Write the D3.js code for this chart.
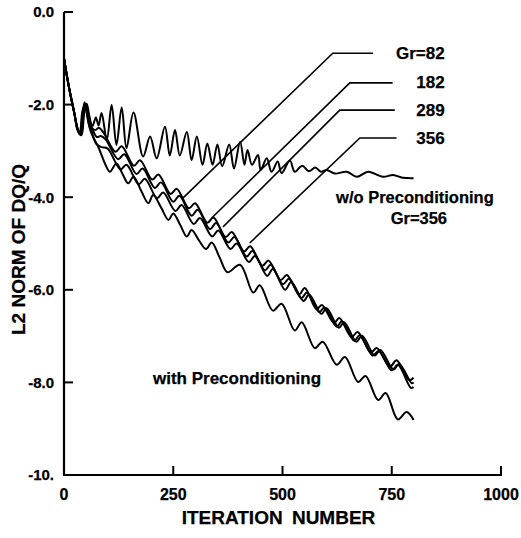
<!DOCTYPE html>
<html>
<head>
<meta charset="utf-8">
<script src="https://cdn.jsdelivr.net/npm/d3@7"></script>
<style>
  html, body { margin: 0; padding: 0; background: #fff; }
  svg { display: block; }
  text { font-family: "Liberation Sans", Arial, Helvetica, sans-serif; font-weight: bold; fill: #000; stroke: #000; stroke-width: 0.25px; }
</style>
</head>
<body>
<svg id="chart" width="521" height="538"></svg>
<script>
// ---------------- data ----------------
const xTicks = [0, 250, 500, 750, 1000];
const xTickLabels = ["0", "250", "500", "750", "1000"];
const yTicks = [0, -2, -4, -6, -8, -10];
const yTickLabels = ["0.0", "-2.0", "-4.0", "-6.0", "-8.0", "-10."];
const xTitle = "ITERATION NUMBER";
const yTitle = "L2 NORM OF DQ/Q";

// without preconditioning, Gr=356
const withoutPrecond = [
  [0,-1.0],[6,-1.35],[13,-1.7],[20,-2.0],[28,-2.4],[36,-2.64],[42,-2.3],[47,-1.95],[53,-2.2],[60,-2.5],
  [66,-2.45],[73,-2.28],[79,-2.45],[86,-2.18],[98,-2.76],[109,-2.01],[120,-2.87],[132,-2.06],[143,-2.94],
  [159,-2.17],[181,-3.12],[197,-2.69],[212,-3.16],[231,-2.48],[242,-3.1],[254,-2.55],[265,-3.1],[281,-2.59],
  [292,-3.2],[304,-2.69],[317,-3.3],[328,-2.84],[340,-3.3],[351,-2.86],[362,-3.33],[378,-2.86],[389,-3.38],
  [403,-2.8],[413,-3.3],[420,-2.98],[430,-3.3],[444,-3.09],[450,-3.41],[464,-3.16],[475,-3.45],[489,-3.23],
  [498,-3.48],[517,-3.21],[528,-3.45],[545,-3.32],[560,-3.44],[575,-3.36],[588,-3.45],[601,-3.41],[620,-3.49],
  [647,-3.45],[670,-3.56],[696,-3.45],[730,-3.56],[753,-3.52],[775,-3.58],[800,-3.59]
];

// with preconditioning (four Grashof numbers)
const precondA = [
  [0,-1.0],[8,-1.45],[16,-1.85],[24,-2.2],[32,-2.55],[38,-2.64],[44,-2.25],[50,-1.98],[56,-2.2],[64,-2.5],
  [72,-2.55],[80,-2.5],[90,-2.6],[118,-3.02],[132,-2.9],[160,-3.32],[174,-3.2],[202,-3.62],[216,-3.51],
  [244,-3.93],[258,-3.82],[286,-4.24],[300,-4.13],[328,-4.55],[342,-4.44],[370,-4.86],[384,-4.75],
  [412,-5.17],[426,-5.06],[454,-5.48],[468,-5.37],[496,-5.79],[510,-5.68],[538,-6.1],[551,-5.96],
  [578,-6.42],[590,-6.33],[618,-6.72],[630,-6.61],[658,-7.02],[672,-6.91],[702,-7.35],[716,-7.26],
  [746,-7.66],[761,-7.52],[790,-7.95],[800,-7.9]
];
const precondB = [
  [0,-1.0],[8,-1.45],[16,-1.85],[24,-2.2],[32,-2.58],[40,-2.66],[46,-2.2],[52,-1.98],[58,-2.25],[66,-2.55],
  [75,-2.7],[84,-2.68],[95,-2.75],[124,-3.18],[138,-3.07],[166,-3.5],[180,-3.38],[208,-3.8],[222,-3.68],
  [250,-4.1],[264,-3.97],[292,-4.4],[306,-4.27],[334,-4.69],[348,-4.56],[376,-4.98],[390,-4.86],
  [418,-5.28],[431,-5.16],[460,-5.58],[473,-5.46],[501,-5.88],[515,-5.76],[543,-6.18],[556,-6.06],
  [584,-6.48],[596,-6.38],[624,-6.8],[636,-6.68],[664,-7.1],[677,-6.98],[706,-7.42],[720,-7.32],
  [750,-7.74],[764,-7.62],[794,-8.12],[800,-8.1]
];
const precondC = [
  [0,-1.0],[8,-1.45],[16,-1.85],[24,-2.2],[32,-2.55],[39,-2.62],[45,-2.2],[50,-2.05],[56,-2.3],[64,-2.6],
  [74,-2.85],[86,-2.92],[100,-2.95],[129,-3.4],[143,-3.3],[171,-3.72],[185,-3.6],[213,-4.02],[227,-3.9],
  [255,-4.3],[269,-4.17],[297,-4.58],[311,-4.45],[339,-4.85],[353,-4.72],[381,-5.12],[395,-5.0],
  [423,-5.4],[437,-5.27],[465,-5.7],[478,-5.55],[506,-6.0],[520,-5.83],[548,-6.24],[561,-6.1],
  [589,-6.52],[601,-6.4],[629,-6.82],[641,-6.7],[669,-7.12],[682,-6.99],[711,-7.42],[724,-7.3],
  [754,-7.72],[767,-7.6],[796,-8.02],[800,-8.0]
];
const precondD = [
  [0,-1.0],[8,-1.45],[16,-1.85],[24,-2.2],[30,-2.5],[36,-2.62],[42,-2.15],[48,-2.0],[55,-2.35],[62,-2.6],
  [80,-2.95],[95,-3.3],[105,-3.45],[120,-3.27],[134,-3.5],[147,-3.7],[159,-3.56],[176,-3.85],[193,-4.13],
  [204,-3.95],[222,-4.22],[239,-4.49],[250,-4.35],[266,-4.6],[281,-4.85],[292,-4.71],[308,-4.92],
  [325,-5.12],[338,-4.98],[356,-5.3],[374,-5.62],[403,-5.46],[433,-6.06],[448,-5.9],[478,-6.45],
  [498,-6.3],[528,-6.88],[544,-6.7],[574,-7.26],[592,-7.12],[624,-7.62],[643,-7.45],[673,-7.99],
  [690,-7.86],[719,-8.38],[736,-8.23],[764,-8.8],[784,-8.64],[800,-8.81]
];
const seriesList = [withoutPrecond, precondA, precondB, precondC, precondD];

// Gr labels with leader lines: label, leader corner (x from, x to, y), target point on curve
const grLabels = ["Gr=82", "182", "289", "356"];
const grLeaderStartX = [615, 654, 631, 677];
const grLeaderEndX = [707, 752, 757, 761];
const grLeaderY = [-0.89, -1.53, -2.12, -2.72];
const grTargets = [[272,-4.02],[338,-4.45],[364,-4.64],[425,-4.99]];
const grLabelRightX = 871;

const noteWithout = ["w/o Preconditioning", "Gr=356"];
const noteWithoutPos = [[803,-4.12],[812,-4.57]];
const noteWith = "with Preconditioning";
const noteWithPos = [396,-8.03];

// ---------------- drawing ----------------
const svg = d3.select("#chart");
const x = d3.scaleLinear().domain([0, 1000]).range([64, 501]);
const y = d3.scaleLinear().domain([0, -10]).range([12, 475]);

// axes lines
svg.append("line").attr("x1", x(0)).attr("x2", x(0)).attr("y1", y(0)).attr("y2", y(-10))
  .attr("stroke", "#000").attr("stroke-width", 2.2);
svg.append("line").attr("x1", x(0) - 1).attr("x2", x(1000) + 1).attr("y1", y(-10)).attr("y2", y(-10))
  .attr("stroke", "#000").attr("stroke-width", 2.2);

// y ticks (inward)
svg.selectAll(".ytick").data(yTicks).enter().append("line")
  .attr("x1", x(0)).attr("x2", x(0) + 9)
  .attr("y1", d => y(d)).attr("y2", d => y(d))
  .attr("stroke", "#000").attr("stroke-width", 2);
svg.selectAll(".ylab").data(yTicks).enter().append("text")
  .attr("x", x(0) - 10).attr("y", d => y(d)).attr("dy", "0.36em")
  .attr("text-anchor", "end").attr("font-size", 15)
  .text((d, i) => yTickLabels[i]);

// x ticks (inward)
svg.selectAll(".xtick").data(xTicks).enter().append("line")
  .attr("x1", d => x(d)).attr("x2", d => x(d))
  .attr("y1", y(-10)).attr("y2", y(-10) - 9)
  .attr("stroke", "#000").attr("stroke-width", 2);
svg.selectAll(".xlab").data(xTicks).enter().append("text")
  .attr("x", d => x(d)).attr("y", y(-10) + 25)
  .attr("text-anchor", "middle").attr("font-size", 16)
  .text((d, i) => xTickLabels[i]);

// axis titles
svg.append("text").attr("x", (x(0) + x(1000)) / 2 - 4).attr("y", 524)
  .attr("text-anchor", "middle").attr("font-size", 19).attr("word-spacing", 4).text(xTitle);
svg.append("text").attr("transform", `translate(25, ${(y(0) + y(-10)) / 2 + 6}) rotate(-90)`)
  .attr("text-anchor", "middle").attr("font-size", 19).text(yTitle);

// curves
const line = d3.line().x(d => x(d[0])).y(d => y(d[1])).curve(d3.curveCatmullRom.alpha(0.5));
svg.selectAll(".curve").data(seriesList).enter().append("path")
  .attr("d", line).attr("fill", "none").attr("stroke", "#000")
  .attr("stroke-width", 2).attr("stroke-linejoin", "round");

// leader lines and Gr labels
grLabels.forEach((lab, i) => {
  svg.append("polyline")
    .attr("points", [[x(grTargets[i][0]), y(grTargets[i][1])],
                     [x(grLeaderStartX[i]), y(grLeaderY[i])],
                     [x(grLeaderEndX[i]), y(grLeaderY[i])]].map(p => p.join(",")).join(" "))
    .attr("fill", "none").attr("stroke", "#000").attr("stroke-width", 1.6);
  svg.append("text").attr("x", x(grLabelRightX)).attr("y", y(grLeaderY[i])).attr("dy", "0.33em")
    .attr("text-anchor", "end").attr("font-size", 17).text(lab);
});

noteWithout.forEach((t, i) => {
  svg.append("text").attr("x", x(noteWithoutPos[i][0])).attr("y", y(noteWithoutPos[i][1]))
    .attr("text-anchor", "middle").attr("font-size", 16.5).text(t);
});
svg.append("text").attr("x", x(noteWithPos[0])).attr("y", y(noteWithPos[1]))
  .attr("text-anchor", "middle").attr("font-size", 17).text(noteWith);
</script>
</body>
</html>
